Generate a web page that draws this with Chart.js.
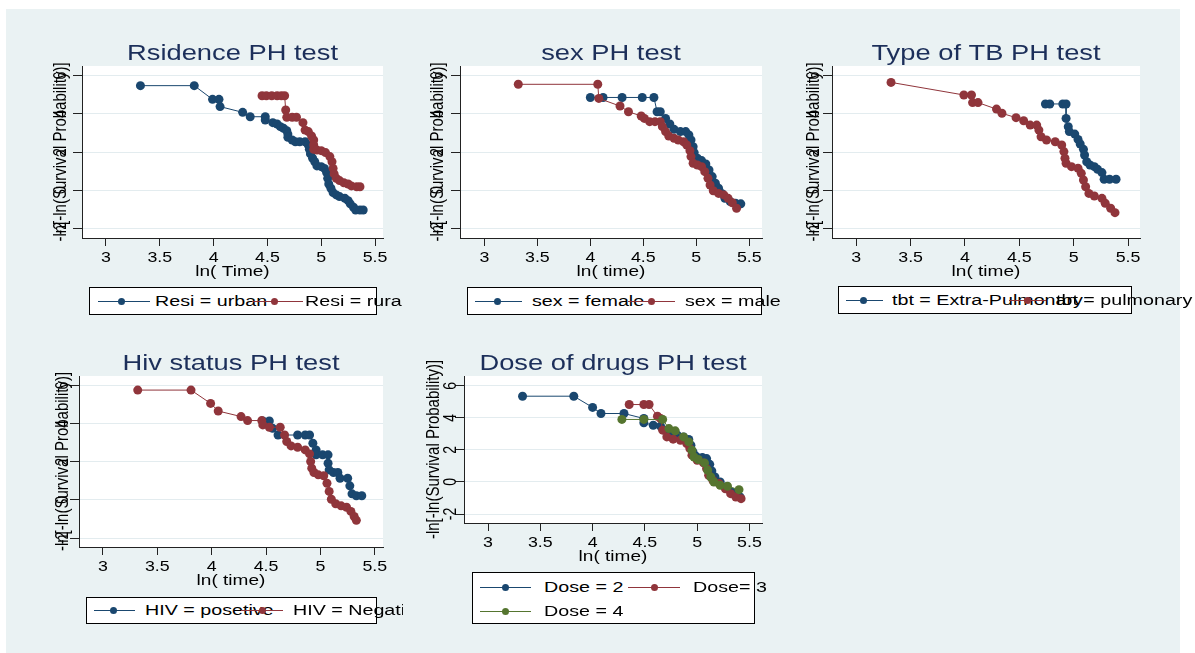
<!DOCTYPE html>
<html>
<head>
<meta charset="utf-8">
<script src="https://cdn.jsdelivr.net/npm/chart.js@4.4.0/dist/chart.umd.min.js"></script>
<style>
    body { margin: 0; background: #fff; width: 1195px; height: 653px; overflow: hidden; position: relative; font-family: "Liberation Sans", Arial, sans-serif; }
    #bg { position: absolute; left: 6px; top: 9px; width: 1174px; height: 644px; background: #eaf2f3; }
    canvas { position: absolute; }
    .clip { position: absolute; left: 0; top: 0; height: 653px; overflow: hidden; }
    .lgbox { position: absolute; background: #fff; border: 1px solid #000; box-sizing: border-box; }
    .lgline { position: absolute; height: 1px; }
    .lgdot { position: absolute; width: 7px; height: 7px; border-radius: 50%; }
    .lgtxt { position: absolute; font-size: 15.5px; line-height: 18px; white-space: nowrap; color: #000; transform: scaleX(1.27); transform-origin: 0 50%; }
</style>
</head>
<body>
<div id="bg"></div>
<script>
// Axis ticks (same on every panel)
const xTicks = [3, 3.5, 4, 4.5, 5, 5.5];
const xTickLabels = ['3', '3.5', '4', '4.5', '5', '5.5'];
const yTicks = [-2, 0, 2, 4, 6];
const yTickLabels = ['-2', '0', '2', '4', '6'];

// Residence
const urbanX = [3.32, 3.82, 3.99, 4.05, 4.06, 4.27, 4.34, 4.48, 4.48, 4.55, 4.59, 4.62, 4.65, 4.68, 4.69, 4.69, 4.73, 4.76, 4.80, 4.85, 4.88, 4.89, 4.90, 4.92, 4.94, 4.96, 5.00, 5.03, 5.05, 5.06, 5.07, 5.09, 5.11, 5.14, 5.17, 5.22, 5.25, 5.27, 5.30, 5.32, 5.36, 5.39];
const urbanY = [5.48, 5.48, 4.76, 4.76, 4.38, 4.08, 3.85, 3.85, 3.68, 3.54, 3.47, 3.33, 3.24, 3.12, 2.94, 2.77, 2.63, 2.54, 2.54, 2.54, 2.37, 2.14, 1.90, 1.67, 1.49, 1.27, 1.23, 1.14, 0.92, 0.62, 0.32, 0.10, -0.13, -0.25, -0.34, -0.43, -0.55, -0.72, -0.90, -1.04, -1.04, -1.04];
const ruralX = [4.45, 4.49, 4.54, 4.59, 4.63, 4.66, 4.67, 4.68, 4.73, 4.77, 4.83, 4.85, 4.88, 4.91, 4.93, 4.93, 4.93, 4.96, 5.00, 5.04, 5.08, 5.10, 5.11, 5.12, 5.14, 5.17, 5.21, 5.25, 5.28, 5.33, 5.36];
const ruralY = [4.95, 4.95, 4.95, 4.95, 4.95, 4.95, 4.20, 3.82, 3.82, 3.82, 3.54, 3.15, 3.07, 2.84, 2.63, 2.37, 2.14, 2.10, 2.07, 1.97, 1.76, 1.49, 1.14, 0.85, 0.62, 0.50, 0.39, 0.32, 0.22, 0.18, 0.18];

// Sex
const femaleX = [4.00, 4.12, 4.30, 4.49, 4.60, 4.63, 4.66, 4.71, 4.75, 4.79, 4.85, 4.90, 4.93, 4.95, 4.97, 4.98, 5.01, 5.05, 5.09, 5.12, 5.15, 5.18, 5.21, 5.24, 5.27, 5.32, 5.37, 5.42];
const femaleY = [4.86, 4.86, 4.86, 4.86, 4.86, 4.11, 4.11, 3.76, 3.47, 3.19, 3.07, 3.07, 2.89, 2.63, 2.28, 1.97, 1.67, 1.55, 1.37, 1.06, 0.71, 0.36, 0.10, -0.17, -0.43, -0.60, -0.69, -0.72];
const maleX = [3.32, 4.07, 4.08, 4.28, 4.36, 4.48, 4.51, 4.56, 4.61, 4.66, 4.68, 4.71, 4.74, 4.79, 4.83, 4.88, 4.91, 4.94, 4.95, 4.97, 5.01, 5.05, 5.08, 5.11, 5.13, 5.16, 5.21, 5.26, 5.30, 5.34, 5.38];
const maleY = [5.55, 5.55, 4.81, 4.41, 4.11, 3.89, 3.76, 3.59, 3.59, 3.59, 3.33, 3.07, 2.84, 2.72, 2.63, 2.54, 2.37, 2.07, 1.76, 1.41, 1.32, 1.23, 0.97, 0.62, 0.27, -0.03, -0.17, -0.25, -0.43, -0.66, -0.95];

// Type of TB
const extraX = [4.74, 4.78, 4.90, 4.93, 4.93, 4.95, 4.96, 5.01, 5.04, 5.06, 5.09, 5.10, 5.12, 5.15, 5.19, 5.22, 5.26, 5.28, 5.33, 5.39];
const extraY = [4.52, 4.52, 4.52, 4.52, 3.76, 3.33, 3.07, 2.94, 2.66, 2.42, 2.14, 1.84, 1.49, 1.32, 1.23, 1.09, 0.92, 0.57, 0.57, 0.57];
const pulmX = [3.32, 3.99, 4.06, 4.07, 4.12, 4.29, 4.34, 4.47, 4.54, 4.60, 4.66, 4.68, 4.70, 4.75, 4.83, 4.89, 4.91, 4.92, 4.93, 4.98, 5.04, 5.07, 5.09, 5.11, 5.14, 5.19, 5.26, 5.29, 5.34, 5.38];
const pulmY = [5.65, 4.99, 4.99, 4.59, 4.59, 4.25, 4.03, 3.80, 3.64, 3.41, 3.41, 3.15, 2.80, 2.63, 2.54, 2.37, 2.02, 1.67, 1.41, 1.23, 1.15, 0.88, 0.53, 0.18, -0.17, -0.31, -0.43, -0.69, -0.95, -1.18];

// HIV status
const hivPosX = [4.47, 4.53, 4.56, 4.61, 4.79, 4.86, 4.90, 4.93, 4.96, 4.96, 5.02, 5.07, 5.07, 5.08, 5.12, 5.16, 5.18, 5.25, 5.27, 5.29, 5.33, 5.38];
const hivPosY = [4.15, 4.15, 3.76, 3.41, 3.41, 3.41, 3.41, 2.98, 2.63, 2.37, 2.37, 2.37, 1.93, 1.58, 1.44, 1.44, 1.14, 1.14, 0.74, 0.32, 0.22, 0.22];
const hivNegX = [3.32, 3.81, 3.99, 4.06, 4.27, 4.33, 4.46, 4.47, 4.53, 4.63, 4.67, 4.69, 4.73, 4.79, 4.86, 4.90, 4.91, 4.92, 4.94, 4.98, 5.03, 5.06, 5.08, 5.10, 5.14, 5.19, 5.24, 5.28, 5.31, 5.33];
const hivNegY = [5.77, 5.77, 5.07, 4.67, 4.38, 4.17, 4.17, 3.94, 3.82, 3.82, 3.41, 3.07, 2.84, 2.77, 2.63, 2.42, 2.02, 1.67, 1.44, 1.32, 1.27, 0.88, 0.45, 0.04, -0.20, -0.31, -0.38, -0.60, -0.87, -1.07];

// Dose of drugs
const dose2X = [3.33, 3.82, 4.00, 4.08, 4.30, 4.49, 4.49, 4.58, 4.65, 4.69, 4.74, 4.81, 4.87, 4.92, 4.94, 4.96, 4.99, 5.05, 5.09, 5.12, 5.14, 5.17, 5.22, 5.28, 5.33, 5.38, 5.41];
const dose2Y = [5.35, 5.35, 4.65, 4.27, 4.27, 3.96, 3.69, 3.54, 3.48, 3.23, 3.06, 2.92, 2.81, 2.65, 2.29, 1.88, 1.60, 1.52, 1.46, 1.10, 0.69, 0.31, 0.00, -0.31, -0.63, -0.83, -0.94];
const dose3X = [4.35, 4.49, 4.54, 4.62, 4.65, 4.67, 4.71, 4.77, 4.84, 4.90, 4.93, 4.95, 5.00, 5.06, 5.09, 5.11, 5.15, 5.21, 5.27, 5.32, 5.37, 5.42];
const dose3Y = [4.83, 4.83, 4.83, 4.10, 3.96, 3.23, 2.81, 2.67, 2.60, 2.40, 2.08, 1.67, 1.35, 1.19, 0.83, 0.42, 0.10, -0.10, -0.42, -0.73, -0.94, -1.04];
const dose4X = [4.28, 4.49, 4.67, 4.73, 4.79, 4.87, 4.92, 4.95, 4.97, 5.01, 5.07, 5.10, 5.13, 5.16, 5.22, 5.29, 5.40];
const dose4Y = [3.90, 3.90, 3.90, 3.33, 3.19, 2.81, 2.50, 1.98, 1.56, 1.40, 1.19, 0.73, 0.31, 0.00, -0.21, -0.27, -0.48];

const BLUE = '#1a476f', RED = '#90353b', GREEN = '#55752f';
const FONT = '"Liberation Sans", Arial, sans-serif';
const STRETCH = 1.27;
const Y_TITLE = '-ln[-ln(Survival Probability)]';

function drawText(ctx, text, x, y, size, color, rotated) {
    ctx.save();
    ctx.translate(x, y);
    ctx.scale(STRETCH, 1);
    if (rotated) ctx.rotate(-Math.PI / 2);
    ctx.font = size + 'px ' + FONT;
    ctx.fillStyle = color;
    ctx.textAlign = 'center';
    ctx.textBaseline = rotated ? 'middle' : 'alphabetic';
    ctx.fillText(text, 0, 0);
    ctx.restore();
}

// Stata-like texts: white plot region, title, ticks, axis titles
function stataPlugin(cfg) {
    return {
        id: 'stata',
        beforeDraw(chart) {
            const { ctx, chartArea: a } = chart;
            ctx.save();
            ctx.fillStyle = '#fff';
            ctx.fillRect(a.left, a.top, a.right - a.left, a.bottom - a.top);
            ctx.restore();
        },
        afterDraw(chart) {
            const { ctx, chartArea: a, scales } = chart;
            const cx = (a.left + a.right) / 2;
            drawText(ctx, cfg.title, cx, a.top - 6, 21.5, '#1c2f5a', false);
            xTicks.forEach((v, i) => {
                drawText(ctx, xTickLabels[i], scales.x.getPixelForValue(v), a.bottom + 24, 14, '#000', false);
            });
            drawText(ctx, cfg.xTitle, cx, a.bottom + 38, 15, '#000', false);
            yTicks.forEach((v, i) => {
                drawText(ctx, yTickLabels[i], a.left + cfg.yTickDx, scales.y.getPixelForValue(v), 14, '#000', true);
            });
            drawText(ctx, Y_TITLE, a.left + cfg.yTitleDx, (a.top + a.bottom) / 2, 15, '#000', true);
        }
    };
}

function makePanel(cfg) {
    const [pl, pt, pr, pb] = cfg.plot;
    const L = pl - 46, T = pt - 44;
    const W = pr + 8 - L, H = pb + 46 - T;
    const cv = document.createElement('canvas');
    cv.width = W;
    cv.height = H;
    cv.style.left = L + 'px';
    cv.style.top = T + 'px';
    cv.style.width = W + 'px';
    cv.style.height = H + 'px';
    document.body.appendChild(cv);

    const chart = new Chart(cv, {
        type: 'scatter',
        data: {
            datasets: cfg.series.map((s, i) => ({
                label: s.label,
                data: s.xs.map((x, j) => ({ x: x, y: s.ys[j] })),
                showLine: true,
                borderColor: s.color,
                backgroundColor: s.color,
                pointBackgroundColor: s.color,
                pointBorderWidth: 0,
                pointRadius: 4.5,
                borderWidth: 1,
                order: -i
            }))
        },
        options: {
            responsive: false,
            animation: false,
            devicePixelRatio: 1,
            layout: { padding: { top: 44, right: 8, left: 0, bottom: 0 } },
            plugins: { legend: { display: false }, tooltip: { enabled: false } },
            scales: {
                x: {
                    type: 'linear',
                    min: cfg.xr[0],
                    max: cfg.xr[1],
                    afterBuildTicks: s => { s.ticks = xTicks.map(v => ({ value: v })); },
                    afterFit: s => { s.height = 46; },
                    ticks: { display: false },
                    grid: { drawOnChartArea: false, drawTicks: true, tickLength: 8, tickColor: '#222' },
                    border: { display: true, color: '#222' }
                },
                y: {
                    min: cfg.yr[0],
                    max: cfg.yr[1],
                    afterBuildTicks: s => { s.ticks = yTicks.map(v => ({ value: v })); },
                    afterFit: s => { s.width = 46; },
                    ticks: { display: false },
                    grid: { color: '#e3ecef', drawTicks: true, tickLength: 9, tickColor: '#222' },
                    border: { display: true, color: '#222' }
                }
            }
        },
        plugins: [stataPlugin(cfg)]
    });

    // Legend box below the plot
    const lg = cfg.legend;
    const clip = document.createElement('div');
    clip.className = 'clip';
    clip.style.width = lg.clip + 'px';
    document.body.appendChild(clip);
    const box = document.createElement('div');
    box.className = 'lgbox';
    box.style.left = lg.box[0] + 'px';
    box.style.top = lg.box[1] + 'px';
    box.style.width = (lg.box[2] - lg.box[0]) + 'px';
    box.style.height = (lg.box[3] - lg.box[1]) + 'px';
    clip.appendChild(box);
    chart.data.datasets.forEach((ds, i) => {
        const it = lg.items[i];
        const line = document.createElement('div');
        line.className = 'lgline';
        line.style.left = it.sym[0] + 'px';
        line.style.top = (it.cy - 0.5) + 'px';
        line.style.width = (it.sym[1] - it.sym[0]) + 'px';
        line.style.background = ds.borderColor;
        clip.appendChild(line);
        const dot = document.createElement('div');
        dot.className = 'lgdot';
        dot.style.left = (it.mk - 3.5) + 'px';
        dot.style.top = (it.cy - 3.5) + 'px';
        dot.style.background = ds.borderColor;
        clip.appendChild(dot);
        const txt = document.createElement('span');
        txt.className = 'lgtxt';
        txt.style.left = it.tx + 'px';
        txt.style.top = (it.cy - 9) + 'px';
        txt.textContent = ds.label;
        clip.appendChild(txt);
    });
}

makePanel({
    title: 'Rsidence PH test', xTitle: 'ln( Time)',
    plot: [82, 66, 383, 238], xr: [2.777, 5.574], yr: [-2.51, 6.51], yTickDx: -21, yTitleDx: -21,
    series: [
        { label: 'Resi = urban', xs: urbanX, ys: urbanY, color: BLUE },
        { label: 'Resi = rural', xs: ruralX, ys: ruralY, color: RED }
    ],
    legend: { clip: 403, box: [89, 287, 377, 315], items: [
        { sym: [98, 150], mk: 121, tx: 155, cy: 301 },
        { sym: [252, 303], mk: 274, tx: 305, cy: 301 }
    ] }
});

makePanel({
    title: 'sex PH test', xTitle: 'ln( time)',
    plot: [460, 66, 762, 238], xr: [2.77, 5.62], yr: [-2.51, 6.51], yTickDx: -22, yTitleDx: -22,
    series: [
        { label: 'sex = female', xs: femaleX, ys: femaleY, color: BLUE },
        { label: 'sex = male', xs: maleX, ys: maleY, color: RED }
    ],
    legend: { clip: 1195, box: [467, 287, 762, 315], items: [
        { sym: [475, 522], mk: 497, tx: 532, cy: 301 },
        { sym: [628, 675], mk: 651, tx: 685, cy: 301 }
    ] }
});

makePanel({
    title: 'Type of TB PH test', xTitle: 'ln( time)',
    plot: [832, 66, 1140, 238], xr: [2.777, 5.61], yr: [-2.51, 6.51], yTickDx: -18, yTitleDx: -18,
    series: [
        { label: 'tbt = Extra-Pulmonary', xs: extraX, ys: extraY, color: BLUE },
        { label: 'tbt = pulmonary', xs: pulmX, ys: pulmY, color: RED }
    ],
    legend: { clip: 1195, box: [838, 286, 1132, 314], items: [
        { sym: [846, 883], mk: 863, tx: 892, cy: 300 },
        { sym: [1009, 1046], mk: 1027, tx: 1056, cy: 300 }
    ] }
});

makePanel({
    title: 'Hiv status PH test', xTitle: 'ln( time)',
    plot: [79, 376, 383, 547], xr: [2.78, 5.575], yr: [-2.47, 6.51], yTickDx: -16, yTitleDx: -16,
    series: [
        { label: 'HIV = posetive', xs: hivPosX, ys: hivPosY, color: BLUE },
        { label: 'HIV = Negative', xs: hivNegX, ys: hivNegY, color: RED }
    ],
    legend: { clip: 403, box: [86, 597, 377, 624], items: [
        { sym: [94, 135], mk: 113, tx: 145, cy: 610 },
        { sym: [241, 283], mk: 262, tx: 293, cy: 610 }
    ] }
});

makePanel({
    title: 'Dose of drugs PH test', xTitle: 'ln( time)',
    plot: [464, 376, 762, 523], xr: [2.77, 5.62], yr: [-2.56, 6.61], yTickDx: -13, yTitleDx: -30,
    series: [
        { label: 'Dose = 2', xs: dose2X, ys: dose2Y, color: BLUE },
        { label: 'Dose= 3', xs: dose3X, ys: dose3Y, color: RED },
        { label: 'Dose = 4', xs: dose4X, ys: dose4Y, color: GREEN }
    ],
    legend: { clip: 1195, box: [472, 572, 755, 624], items: [
        { sym: [480, 531], mk: 505, tx: 544, cy: 587 },
        { sym: [628, 680], mk: 654, tx: 693, cy: 587 },
        { sym: [480, 531], mk: 505, tx: 544, cy: 611 }
    ] }
});
</script>
</body>
</html>
